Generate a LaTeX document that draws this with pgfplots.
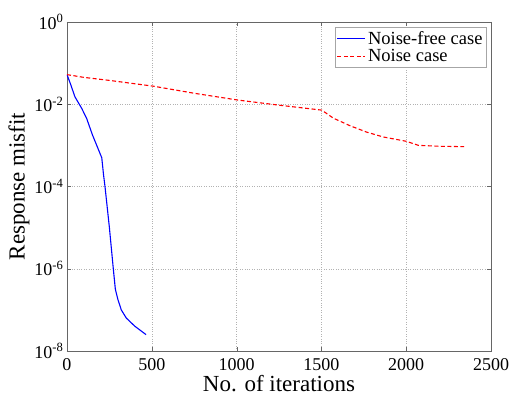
\documentclass[border=0pt]{standalone}
\usepackage{fontspec}
\setmainfont{Liberation Serif}
\usepackage{pgfplots}
\pgfplotsset{compat=1.18}
\usetikzlibrary{calc}

\begin{document}
\begin{tikzpicture}
\begin{axis}[
  name=main,
  scale only axis,
  width=424pt, height=329pt,
  ymode=log,
  xmin=0, xmax=2500,
  ymin=1e-8, ymax=1,
  xtick={0,500,1000,1500,2000,2500},
  xticklabels={0,500,1000,1500,2000,2500},
  ytick={1e-8,1e-6,1e-4,1e-2,1},
  yticklabels={10\textsuperscript{-8},10\textsuperscript{-6},10\textsuperscript{-4},10\textsuperscript{-2},10\textsuperscript{0}},
  minor ytick={},
  tick label style={font=\fontsize{18}{20}\selectfont},
  xticklabel style={yshift=-4pt},
  xlabel={No. of iterations},
  ylabel={Response misfit},
  label style={font=\fontsize{23}{26}\selectfont},
  xlabel style={yshift=2pt},
  ylabel style={yshift=-2pt},
  grid=major,
  grid style={gray!60, dotted},
  axis line style={gray!80!black},
  tick style={gray!80!black},
  tick align=inside,
  major tick length=4pt,
  legend style={at={(0.99,0.985)}, anchor=north east, draw=gray!70,
    font=\fontsize{18.5}{21}\selectfont, inner sep=2pt},
  legend cell align=left,
  legend image code/.code={\draw[#1] (0pt,0pt) -- (28pt,0pt);},
]
\addplot[blue, line width=1.1pt] coordinates {
  (0,0.0525) (20,0.0316) (47,0.0151) (87,0.0079) (116,0.0045)
  (150,0.0018) (205,0.0005) (215,0.0002) (224,0.0001)
  (250,1e-5) (273,1e-6) (285,3.2e-7) (300,1.8e-7) (320,1e-7)
  (350,6.3e-8) (400,4e-8) (466,2.5e-8)
};
\addlegendentry{Noise-free case}
\addplot[red, line width=1.1pt, dash pattern=on 4pt off 2.5pt] coordinates {
  (0,0.0525) (100,0.045) (250,0.038) (509,0.0275) (750,0.0185)
  (1010,0.0126) (1250,0.0095) (1502,0.0072) (1570,0.0046)
  (1669,0.0030) (1767,0.0021) (1865,0.0016) (1999,0.00126)
  (2072,0.00100) (2200,0.00095) (2341,0.00093)
};
\addlegendentry{Noise case}
\end{axis}
\pgfresetboundingbox
\path ($(main.south west)+(-67pt,-49pt)$) rectangle ($(main.north east)+(18pt,22pt)$);
\end{tikzpicture}
\end{document}
